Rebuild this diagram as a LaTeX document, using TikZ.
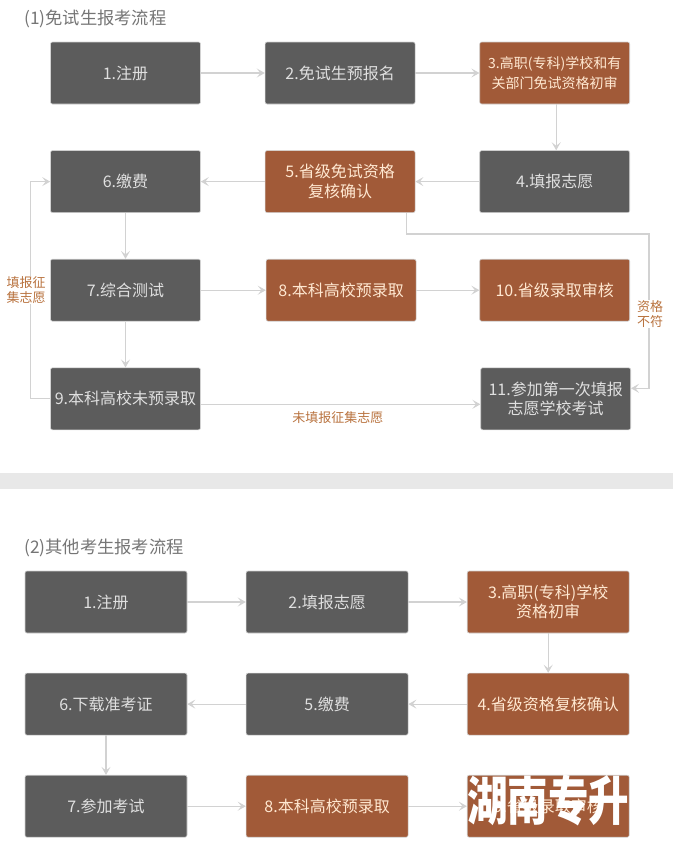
\documentclass[tikz,border=0pt]{standalone}
\usepackage{xcolor}
\usepackage{fontspec}
\setmainfont{Noto Sans CJK SC}
\usepackage{tikz}
\usetikzlibrary{arrows.meta, positioning}
\definecolor{boxgray}{HTML}{5C5C5C}
\definecolor{boxbrown}{HTML}{A15A38}
\definecolor{linegray}{HTML}{D2D2D2}
\definecolor{notebrown}{HTML}{B9733F}
\definecolor{titlegray}{HTML}{757575}

\begin{document}
\begin{tikzpicture}[
    node distance=46pt and 64pt,
    darkbox/.style={rectangle, draw=linegray, fill=boxgray, line width=.6pt, rounded corners=2pt, text=white!88!black,
                minimum width=150pt, minimum height=62pt, inner sep=0pt, align=center,
                font=\fontsize{16pt}{19.5pt}\selectfont},
    brownbox/.style={darkbox, fill=boxbrown, text=orange!18!white},
    widedark/.style={darkbox, minimum width=162pt},
    widebrown/.style={brownbox, minimum width=162pt},
    link/.style={-{Stealth[length=8pt, width=9pt, inset=3.5pt]}, line width=1.2pt, color=linegray},
    note/.style={text=notebrown, fill=white, inner sep=0pt, align=center, font=\fontsize{13pt}{15.5pt}\selectfont},
    heading/.style={text=titlegray, inner sep=0pt, anchor=west, font=\fontsize{17.3pt}{19pt}\selectfont}
]
\useasboundingbox (0pt,0pt) rectangle (673pt,-847pt);
\fill[black!9] (0pt,-473pt) rectangle (673pt,-489pt);

% Nodes, first flow
\node[heading] (titleA) at (24pt,-18.5pt) {(1)免试生报考流程};

\node[darkbox] (one) at (125.5pt,-73pt) {1.注册};
\node[darkbox] (two) [right=of one] {2.免试生预报名};
\node[brownbox, font=\fontsize{14pt}{19.5pt}\selectfont] (three) [right=of two] {3.高职(专科)学校和有\\关部门免试资格初审};

\node[darkbox] (four) [below=of three] {4.填报志愿};
\node[brownbox] (five) [below=of two] {5.省级免试资格\\复核确认};
\node[darkbox] (six) [below=of one] {6.缴费};

\node[darkbox] (seven) [below=of six] {7.综合测试};
\node[brownbox] (eight) [below=of five, xshift=1pt] {8.本科高校预录取};
\node[brownbox] (ten) [below=of four] {10.省级录取审核};

\node[darkbox] (nine) [below=of seven] {9.本科高校未预录取};
\node[darkbox] (eleven) [below=of ten, xshift=1pt] {11.参加第一次填报\\志愿学校考试};

\coordinate (railtop) at ([xshift=18pt]eleven.east |- 0pt,-234pt);
\coordinate (railbot) at ([xshift=18pt,yshift=10.5pt]eleven.east);

% Arrows, first flow
\draw[link] (one) -- (two);
\draw[link] (two) -- (three);
\draw[link] ([xshift=1.5pt]three.south) -- ([xshift=1.5pt]four.north);
\draw[link] (four) -- (five);
\draw[link] (five) -- (six);
\draw[link] (six) -- (seven);
\draw[link] (seven) -- (eight);
\draw[link] (eight) -- (ten);
\draw[link] (seven) -- (nine);
\draw[link] ([xshift=-9pt]five.south east) |- (railtop) -- (railbot) -- ([yshift=10.5pt]eleven.east);
\draw[link] (nine.west) -- ++(-20pt,0) |- (six.west);
\draw[link] ([yshift=-5.5pt]nine.east) -- node[note, below=7pt, pos=.49] (unfilled) {未填报征集志愿} ([yshift=-5.5pt]eleven.west);

\node[note] (fillagain) [left=4.5pt of seven] {填报征\\集志愿};
\node[note] (unfit) at ([xshift=1pt,yshift=-24pt]ten.east -| railtop) {资格\\不符};

% Nodes, second flow
\node[heading] (titleB) at (24pt,-548pt) {(2)其他考生报考流程};

\begin{scope}[node distance=39.5pt and 58.5pt]
\node[widedark] (regb) at (106pt,-602pt) {1.注册};
\node[widedark] (wishb) [right=of regb] {2.填报志愿};
\node[widebrown] (checkb) [right=of wishb] {3.高职(专科)学校\\资格初审};

\node[widebrown] (reviewb) [below=of checkb] {4.省级资格复核确认};
\node[widedark] (payb) [below=of wishb] {5.缴费};
\node[widedark] (ticketb) [below=of regb] {6.下载准考证};

\node[widedark] (examb) [below=of ticketb] {7.参加考试};
\node[widebrown] (preb) [below=of payb] {8.本科高校预录取};
\node[widebrown] (auditb) [below=of reviewb] {9.省级录取审核};
\end{scope}

% Arrows, second flow
\draw[link] (regb) -- (wishb);
\draw[link] (wishb) -- (checkb);
\draw[link] (checkb) -- (reviewb);
\draw[link] (reviewb) -- (payb);
\draw[link] (payb) -- (ticketb);
\draw[link] (ticketb) -- (examb);
\draw[link] (examb) -- (preb);
\draw[link] (preb) -- (auditb);

% Stamp over the last box
\node[text=white, inner sep=0pt, yscale=1.3, transform shape, font=\fontsize{40.5pt}{40pt}\selectfont\bfseries] (stamp) at ([yshift=6pt]auditb) {湖南专升};

\end{tikzpicture}
\end{document}
